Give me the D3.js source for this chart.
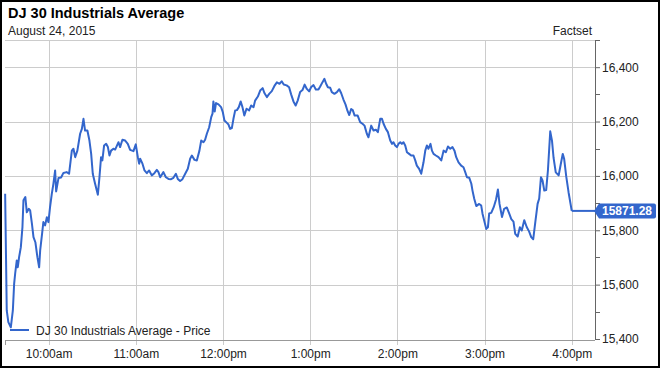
<!DOCTYPE html>
<html>
<head>
<meta charset="utf-8">
<script src="https://cdn.jsdelivr.net/npm/d3@7"></script>
<style>
  body { margin: 0; background: #fff; }
  text { font-family: "Liberation Sans", Arial, sans-serif; }
</style>
</head>
<body>
<div id="chart"></div>
<script>
// minutes after the 9:30am open, and index level at that minute
const minutes = [0.1,1.2,2.3,4.0,5.4,6.3,7.0,8.1,8.8,9.7,
  10.9,12.0,12.7,14.0,15.0,16.4,17.3,18.5,19.6,20.9,
  22.3,23.5,24.2,25.5,26.4,27.6,28.8,29.9,31.0,32.2,
  33.3,34.5,35.2,36.8,38.6,40.2,42.4,44.1,46.0,47.1,
  48.3,49.8,51.7,52.9,54.0,55.1,56.7,58.1,59.3,60.4,
  62.0,63.9,65.0,66.1,67.0,68.2,69.6,70.8,71.9,73.0,
  74.6,75.8,78.1,79.2,80.8,82.7,84.5,86.1,88.4,90.0,
  91.4,92.3,93.0,94.6,96.0,97.6,99.2,101.0,102.8,104.5,
  105.6,106.8,109.0,110.7,112.5,114.3,115.9,117.6,118.9,120.5,
  122.1,124.0,125.8,127.4,128.6,130.4,132.0,133.8,135.0,136.6,
  137.7,138.9,140.5,141.9,142.8,143.4,144.3,145.2,146.9,148.7,
  149.9,151.0,152.7,153.8,154.9,156.1,157.2,158.4,159.6,160.9,
  162.2,163.4,164.7,166.2,168.0,169.4,171.0,172.1,174.0,175.6,
  177.3,178.5,180.2,181.8,183.6,185.4,187.1,188.9,190.4,191.8,
  193.8,195.5,196.9,198.5,200.0,201.4,203.1,204.7,206.2,207.7,
  209.3,210.7,212.3,213.9,215.7,216.9,218.5,219.8,221.0,222.2,
  223.8,224.9,226.7,228.4,230.0,231.3,232.9,234.3,235.7,236.9,
  238.2,239.3,240.6,242.7,244.4,246.0,247.4,249.0,250.1,252.0,
  253.6,255.2,256.6,258.2,259.4,260.5,262.1,263.5,265.1,266.3,
  267.3,268.5,269.7,270.8,272.0,273.1,274.2,275.4,276.6,278.1,
  279.5,281.1,282.3,283.4,285.0,286.4,288.0,289.2,290.3,291.4,
  292.8,293.8,294.9,296.5,298.3,300.2,301.8,303.4,304.8,306.4,
  307.9,309.3,310.5,312.1,313.9,315.5,316.7,317.9,319.5,320.9,
  321.7,322.9,324.3,326.3,327.7,328.6,330.0,331.2,332.3,333.2,
  334.6,336.3,337.9,339.2,340.3,342.0,343.5,345.3,347.0,348.4,
  349.9,351.1,352.8,354.3,355.6,357.3,359.0,360.7,362.1,363.5,
  364.9,366.5,367.6,368.8,369.9,371.1,372.4,373.6,375.2,376.4,
  377.5,379.0,381.0,382.4,383.8,384.8,386.2,387.8,390];

const prices = [15934,15505,15462,15443,15505,15604,15641,15689,15664,15701,
  15738,15811,15910,15922,15866,15879,15873,15825,15775,15756,
  15701,15664,15726,15787,15830,15818,15848,15830,15885,15934,
  15971,16020,15943,15992,15994,16011,16014,16008,16093,16100,
  16069,16093,16155,16173,16210,16167,16167,16130,16081,16008,
  15971,15931,15995,16069,16057,16112,16118,16106,16075,16093,
  16100,16097,16124,16106,16133,16130,16118,16096,16091,16116,
  16069,16045,16063,16045,16020,16010,16020,16002,16010,16022,
  16014,15995,16014,15995,15989,15988,15993,16008,15989,15981,
  15988,16008,16026,16063,16075,16059,16057,16093,16130,16124,
  16133,16155,16179,16216,16229,16274,16237,16268,16263,16253,
  16234,16204,16195,16189,16173,16176,16210,16241,16242,16253,
  16274,16253,16222,16247,16241,16259,16253,16277,16292,16314,
  16323,16305,16290,16302,16312,16331,16344,16339,16348,16336,
  16333,16326,16300,16274,16259,16277,16309,16316,16336,16320,
  16311,16327,16334,16318,16318,16329,16345,16357,16339,16326,
  16324,16308,16302,16308,16319,16305,16281,16263,16239,16224,
  16246,16242,16222,16222,16198,16192,16185,16155,16142,16185,
  16167,16170,16161,16210,16210,16192,16173,16161,16130,16118,
  16124,16112,16106,16118,16124,16118,16124,16112,16087,16081,
  16075,16075,16057,16038,16026,16008,16050,16093,16112,16100,
  16118,16093,16081,16075,16069,16057,16093,16087,16108,16100,
  16106,16093,16069,16050,16038,16032,16014,15995,15993,15971,
  15946,15916,15889,15897,15891,15861,15830,15805,15811,15862,
  15864,15885,15913,15950,15897,15849,15879,15884,15861,15841,
  15832,15787,15777,15811,15799,15837,15812,15795,15775,15767,
  15829,15897,15917,15995,15983,15946,15948,16020,16164,16130,
  16066,16013,16002,16042,16081,16062,15998,15940,15871.28];

const hourTicks = [10, 11, 12, 13, 14, 15, 16];
const yTicks = [15400, 15600, 15800, 16000, 16200, 16400];
const yMinorTicks = [15500, 15700, 15900, 16100, 16300, 16500];
const axisEndMinutes = 406;

const titleText = "DJ 30 Industrials Average";
const subtitleText = "August 24, 2015";
const sourceText = "Factset";
const seriesName = "DJ 30 Industrials Average - Price";

const width = 660, height = 368;
const lineColor = "#3366cc";
const gridColor = "#cccccc";

const open = new Date(2015, 7, 24, 9, 30);
const toDate = m => new Date(open.getTime() + m * 60000);

const data = d3.zip(minutes, prices).map(([m, p]) => ({ t: toDate(m), p: p }));
const last = data[data.length - 1];

const x = d3.scaleTime()
    .domain([open, toDate(axisEndMinutes)])
    .range([5, 595]);

const y = d3.scaleLinear()
    .domain([15400, 16500])
    .range([339, 40]);

const svg = d3.select("#chart")
    .append("svg")
    .attr("width", width)
    .attr("height", height);

svg.append("rect")
    .attr("width", width)
    .attr("height", height)
    .attr("fill", "#fff");

// titles
svg.append("text")
    .attr("x", 8).attr("y", 18)
    .style("font-size", "14.5px")
    .style("font-weight", "bold")
    .attr("fill", "#000")
    .text(titleText);

svg.append("text")
    .attr("x", 8).attr("y", 35)
    .style("font-size", "12px")
    .attr("fill", "#222")
    .text(subtitleText);

svg.append("text")
    .attr("x", 592).attr("y", 35)
    .attr("text-anchor", "end")
    .style("font-size", "12px")
    .attr("fill", "#222")
    .text(sourceText);

const hourDates = hourTicks.map(h => new Date(2015, 7, 24, h, 0));
const [plotTop, plotBottom] = [40, 340];

// grid lines
const grid = svg.append("g");
grid.selectAll(".vgrid")
    .data(hourDates)
    .enter().append("line")
    .attr("x1", d => Math.round(x(d)) + 0.5)
    .attr("x2", d => Math.round(x(d)) + 0.5)
    .attr("y1", plotTop)
    .attr("y2", plotBottom + 5)
    .attr("stroke", gridColor);

grid.selectAll(".hgrid")
    .data(yTicks.slice(1))
    .enter().append("line")
    .attr("x1", 5)
    .attr("x2", 595)
    .attr("y1", d => Math.round(y(d)) + 0.5)
    .attr("y2", d => Math.round(y(d)) + 0.5)
    .attr("stroke", gridColor);

grid.append("line")
    .attr("x1", 5).attr("x2", 595)
    .attr("y1", plotTop + 0.5).attr("y2", plotTop + 0.5)
    .attr("stroke", gridColor);

// bottom axis
const xAxis = d3.axisBottom(x)
    .tickValues(hourDates)
    .tickSize(0)
    .tickPadding(9)
    .tickFormat(d => d3.timeFormat("%-I:%M%p")(d).toLowerCase());

const xAxisG = svg.append("g")
    .attr("transform", `translate(0,${plotBottom})`)
    .call(xAxis);
xAxisG.select(".domain").attr("stroke", "#999").attr("d", "M5,0.5H595");
xAxisG.selectAll("text")
    .style("font-size", "12px")
    .style("font-family", "'Liberation Sans', Arial, sans-serif")
    .attr("fill", "#222");
xAxisG.append("line")
    .attr("x1", 5.5).attr("x2", 5.5)
    .attr("y1", 0).attr("y2", 5)
    .attr("stroke", "#999");

// right axis
const yAxis = d3.axisRight(y)
    .tickValues(yTicks)
    .tickSize(5)
    .tickPadding(2)
    .tickFormat(d3.format(","));

const yAxisG = svg.append("g")
    .attr("transform", "translate(595,0)")
    .call(yAxis);
yAxisG.select(".domain").attr("stroke", "#666").attr("d", `M0.5,${plotTop}V${plotBottom}`);
yAxisG.selectAll(".tick line").attr("stroke", "#666");
yAxisG.selectAll("text")
    .style("font-size", "12px")
    .style("font-family", "'Liberation Sans', Arial, sans-serif")
    .attr("fill", "#222");

yAxisG.selectAll(".minor")
    .data(yMinorTicks)
    .enter().append("line")
    .attr("x1", 0).attr("x2", 5)
    .attr("y1", d => Math.round(y(d)) + 0.5)
    .attr("y2", d => Math.round(y(d)) + 0.5)
    .attr("stroke", "#666");

// price line
const line = d3.line()
    .x(d => x(d.t))
    .y(d => y(d.p));

svg.append("path")
    .datum(data)
    .attr("fill", "none")
    .attr("stroke", lineColor)
    .attr("stroke-width", 2)
    .attr("stroke-linejoin", "round")
    .attr("d", line);

// last value carried to the axis
svg.append("line")
    .attr("x1", x(last.t)).attr("x2", 595)
    .attr("y1", y(last.p)).attr("y2", y(last.p))
    .attr("stroke", lineColor)
    .attr("stroke-width", 2);

// last value flag
const ly = y(last.p);
svg.append("path")
    .attr("d", `M594,${ly} L599,${ly - 7.5} H654 Q656,${ly - 7.5} 656,${ly - 5.5} V${ly + 5.5} Q656,${ly + 7.5} 654,${ly + 7.5} H599 Z`)
    .attr("fill", lineColor);

svg.append("text")
    .attr("x", 627).attr("y", ly + 4.5)
    .attr("text-anchor", "middle")
    .style("font-size", "12px")
    .style("font-weight", "bold")
    .attr("fill", "#fff")
    .text(d3.format(".2f")(last.p));

// legend
const legend = svg.append("g").attr("transform", "translate(10,330)");
legend.append("line")
    .attr("x1", 0).attr("x2", 19)
    .attr("y1", 0).attr("y2", 0)
    .attr("stroke", lineColor)
    .attr("stroke-width", 2);
legend.append("text")
    .attr("x", 26).attr("y", 4.5)
    .style("font-size", "12px")
    .attr("fill", "#222")
    .text(seriesName);

// outer frame
svg.append("rect")
    .attr("x", 1).attr("y", 1)
    .attr("width", width - 2).attr("height", height - 2)
    .attr("fill", "none")
    .attr("stroke", "#000")
    .attr("stroke-width", 2);
</script>
</body>
</html>
